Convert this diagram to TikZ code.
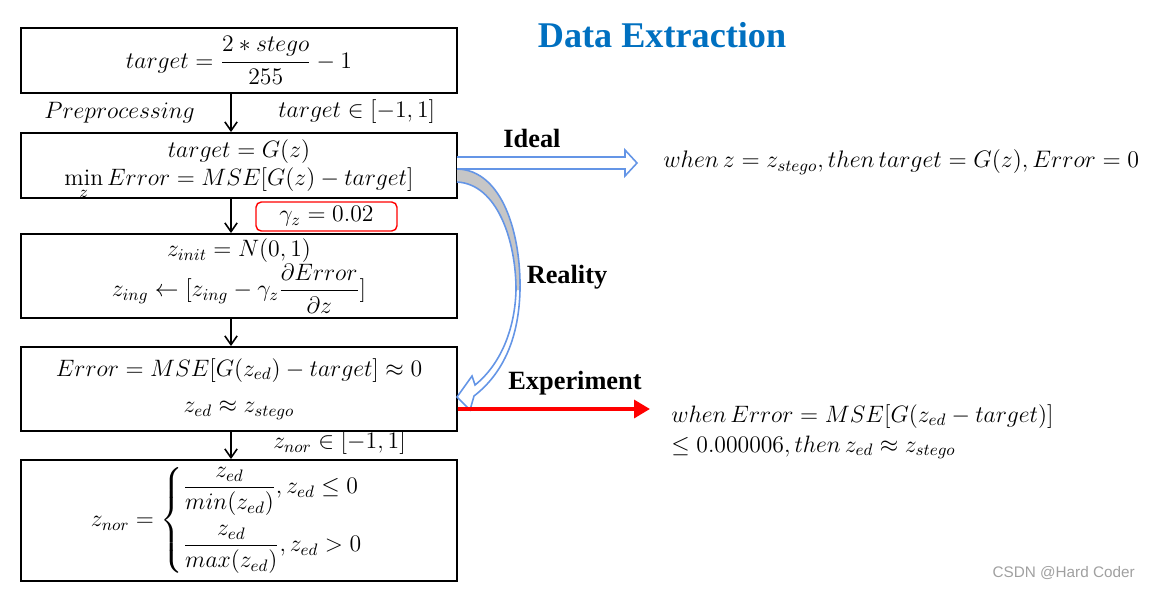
\RequirePackage{fix-cm}
\documentclass[tikz,border=0pt]{standalone}
\usepackage{amsmath}
\usepackage{fontspec}
\newfontfamily\titlefont{Liberation Serif}
\newfontfamily\wmfont{Liberation Sans}
\usetikzlibrary{arrows.meta}
\definecolor{titleblue}{RGB}{0,112,192}
\definecolor{arrowblue}{RGB}{100,149,230}
\definecolor{wmgray}{RGB}{160,160,160}

\begin{document}
\begin{tikzpicture}[x=0.02cm,y=-0.02cm,
    box/.style={draw, line width=1.1pt, minimum width=8.72cm, align=center, inner sep=0pt, font=\fontsize{13.5}{17}\selectfont},
    lbl/.style={inner sep=0pt, font=\fontsize{13.5}{17}\selectfont},
    boldlbl/.style={font=\titlefont\bfseries\fontsize{15}{18}\selectfont},
    flow/.style={-{Straight Barb[length=5pt,width=7pt]}, line width=0.9pt}]
    \useasboundingbox (0,0) rectangle (1151,589);

    % Title
    \node[font=\titlefont\bfseries\fontsize{20.6}{24}\selectfont, text=titleblue] (title) at (662,35) {Data Extraction};

    % Boxes
    \node[box, minimum height=1.3cm] (pre) at (239,60.5) {$target=\dfrac{2\ast stego}{255}-1$};
    \node[box, minimum height=1.3cm] (gen) at (239,165.5) {$target=G(z)$\\[-1pt]$\smash[b]{\min\limits_{\raisebox{2pt}{$\scriptstyle z$}}}\,Error=MSE[G(z)-target]$};
    \node[box, minimum height=1.68cm] (upd) at (239,276) {$z_{init}=N(0,1)$\\$z_{ing}\leftarrow[z_{ing}-\gamma_z\dfrac{\partial Error}{\partial z}]$};
    \node[box, minimum height=1.68cm] (res) at (239,389) {$Error=MSE[G(z_{ed})-target]\approx 0$\\[4pt]$z_{ed}\approx z_{stego}$};
    \node[box, minimum height=2.42cm] (nor) at (239,520.5) {$z_{nor}=\begin{cases}\dfrac{z_{ed}}{min(z_{ed})},z_{ed}\le 0\\[12pt] \dfrac{z_{ed}}{max(z_{ed})},z_{ed}>0\end{cases}$};

    % Flow arrows
    \coordinate (ax) at (231,0);
    \draw[flow] (pre.south -| ax) -- (gen.north -| ax);
    \draw[flow] (gen.south -| ax) -- (upd.north -| ax);
    \draw[flow] (upd.south -| ax) -- (res.north -| ax);
    \draw[flow] (res.south -| ax) -- (nor.north -| ax);

    % Labels
    \node[lbl, anchor=west] (prep) at (44,113) {$Preprocessing$};
    \node[lbl, anchor=west] (trng) at (278,112) {$target\in[-1,1]$};
    \node[lbl, draw=red, rounded corners=3pt, line width=0.8pt, minimum width=2.82cm, minimum height=0.58cm] (gam) at (326.5,216.5) {$\gamma_z=0.02$};
    \node[lbl, anchor=west] (nrng) at (273,443) {$z_{nor}\in[-1,1]$};

    % Ideal
    \draw[arrowblue, line width=0.9pt, fill=white] (457,157) -- (625,157) -- (625,150) -- (637,163) -- (625,176) -- (625,169) -- (457,169);
    \node[boldlbl] (ideal) at (532,138) {Ideal};
    \node[lbl, anchor=west, font=\fontsize{13.6}{16}\selectfont] (idealtxt) at (663,162) {$when\,z=z_{stego},then\,target=G(z),Error=0$};

    % Reality
    \fill[white] (457,169) .. controls (503,170) and (521,235) .. (520,290) .. controls (519,335) and (505,372) .. (474,396)
        -- (470,410) -- (457,397) -- (472,376) -- (475,385)
        .. controls (500,365) and (515,330) .. (516,290) .. controls (516,240) and (497,184) .. (457,182) -- cycle;
    \fill[gray!45] (457,169) .. controls (503,170) and (521,235) .. (520,290) -- (516,290) .. controls (516,240) and (497,184) .. (457,182) -- cycle;
    \draw[arrowblue, line width=0.9pt] (457,169) .. controls (503,170) and (521,235) .. (520,290) .. controls (519,335) and (505,372) .. (474,396)
        -- (470,410) -- (457,397) -- (472,376) -- (475,385)
        .. controls (500,365) and (515,330) .. (516,290) .. controls (516,240) and (497,184) .. (457,182);
    \node[boldlbl] (real) at (567,277) {Reality};

    % Experiment
    \coordinate (expend) at (650,409);
    \draw[red, line width=2.2pt, -{Triangle[length=9pt,width=10pt]}] ([yshift=-0.4cm]res.east) -- (expend);
    \node[boldlbl] (exper) at (575,383) {Experiment};
    \node[lbl, anchor=north west, align=left] (exptxt) at (671,404) {$when\,Error=MSE[G(z_{ed}-target)]$\\$\le 0.000006,then\,z_{ed}\approx z_{stego}$};

    % Watermark
    \node[font=\wmfont\fontsize{8.7}{10}\selectfont, text=wmgray, anchor=east, inner sep=0pt] (wm) at (1135,573) {CSDN @Hard Coder};
\end{tikzpicture}
\end{document}
